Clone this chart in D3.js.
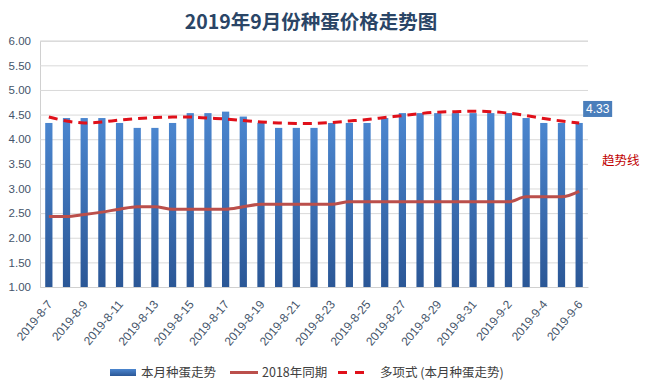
<!DOCTYPE html>
<html>
<head>
<meta charset="utf-8">
<script src="https://cdn.jsdelivr.net/npm/d3@7"></script>
<style>
  body { margin: 0; background: #fff; }
  svg { display: block; font-family: "Liberation Sans", "Noto Sans CJK SC", sans-serif; }
</style>
</head>
<body>
<svg id="chart" width="645" height="389"></svg>
<script>
// categories (x axis)
var dates = ["2019-8-7","2019-8-8","2019-8-9","2019-8-10","2019-8-11","2019-8-12","2019-8-13","2019-8-14",
  "2019-8-15","2019-8-16","2019-8-17","2019-8-18","2019-8-19","2019-8-20","2019-8-21","2019-8-22",
  "2019-8-23","2019-8-24","2019-8-25","2019-8-26","2019-8-27","2019-8-28","2019-8-29","2019-8-30",
  "2019-8-31","2019-9-1","2019-9-2","2019-9-3","2019-9-4","2019-9-5","2019-9-6"];

// 本月种蛋走势 (bars)
var thisMonth = [4.33,4.43,4.43,4.43,4.33,4.23,4.23,4.33,4.53,4.53,4.56,4.46,4.33,4.23,4.23,4.23,
  4.33,4.33,4.33,4.43,4.53,4.53,4.53,4.53,4.53,4.53,4.53,4.43,4.33,4.33,4.33];

// 2018年同期
var lastYear = [2.43,2.43,2.47,2.52,2.58,2.63,2.63,2.58,2.58,2.58,2.58,2.63,2.68,2.68,2.68,2.68,
  2.68,2.73,2.73,2.73,2.73,2.73,2.73,2.73,2.73,2.73,2.73,2.83,2.83,2.83,2.94];

// 多项式 (本月种蛋走势)
var trend = [4.45,4.37,4.33,4.35,4.39,4.42,4.44,4.45,4.45,4.43,4.41,4.38,4.35,4.33,4.32,4.32,
  4.34,4.37,4.40,4.44,4.48,4.52,4.55,4.56,4.57,4.56,4.53,4.48,4.42,4.37,4.33];

var yTicks = [1.00,1.50,2.00,2.50,3.00,3.50,4.00,4.50,5.00,5.50,6.00];

var svg = d3.select("#chart");
var plotLeft = 40, plotRight = 588, plotTop = 40.7, plotBottom = 287;

var x = d3.scaleBand().domain(dates).range([plotLeft, plotRight]).paddingInner(0.59).paddingOuter(0.295);
var xc = function(i){ return x(dates[i]) + x.bandwidth() / 2; };
var y = d3.scaleLinear().domain([1, 6]).range([plotBottom, plotTop]);

// gradient for bars
var defs = svg.append("defs");
var grad = defs.append("linearGradient").attr("id", "barGrad").attr("x1", 0).attr("y1", 0).attr("x2", 0).attr("y2", 1);
grad.append("stop").attr("offset", "0%").attr("stop-color", "#4b86cf");
grad.append("stop").attr("offset", "100%").attr("stop-color", "#2b5796");

// title
svg.append("text")
  .attr("x", 311).attr("y", 29)
  .attr("text-anchor", "middle")
  .style("font-family", "'Noto Sans CJK SC', sans-serif")
  .style("font-weight", "bold")
  .style("font-size", "19.5px")
  .style("fill", "#2a4566")
  .text("2019年9月份种蛋价格走势图");

// y axis with gridlines
var yAxis = svg.append("g")
  .attr("transform", "translate(" + plotLeft + ",0)")
  .call(d3.axisLeft(y).tickValues(yTicks).tickFormat(d3.format(".2f")).tickSize(-(plotRight - plotLeft)).tickPadding(9));
yAxis.select(".domain").attr("stroke", "#d0d0d0");
yAxis.selectAll(".tick line").attr("stroke", "#d9d9d9");
yAxis.selectAll(".tick text").style("font-size", "11.5px").style("fill", "#44546a");

// x axis
var xAxis = svg.append("g")
  .attr("transform", "translate(0," + plotBottom + ")")
  .call(d3.axisBottom(x).tickValues(dates.filter(function(d, i){ return i % 2 === 0; })).tickSize(0));
xAxis.select(".domain").attr("stroke", "#d0d0d0");
xAxis.selectAll(".tick text")
  .attr("text-anchor", "end")
  .attr("transform", "translate(1,15) rotate(-50)")
  .attr("dy", "0.35em").attr("y", 0)
  .style("font-size", "12px")
  .style("fill", "#44546a");

// bars
svg.append("g").selectAll("rect")
  .data(thisMonth)
  .join("rect")
  .attr("x", function(d, i){ return x(dates[i]); })
  .attr("y", function(d){ return y(d); })
  .attr("width", x.bandwidth())
  .attr("height", function(d){ return y(1) - y(d); })
  .attr("fill", "url(#barGrad)");

// 2018 line
var line = d3.line()
  .x(function(d, i){ return xc(i); })
  .y(function(d){ return y(d); })
  .curve(d3.curveMonotoneX);

svg.append("path")
  .attr("d", line(lastYear))
  .attr("fill", "none")
  .attr("stroke", "#bb4f4b")
  .attr("stroke-width", 3);

// trend line
svg.append("path")
  .attr("d", line.curve(d3.curveCatmullRom)(trend))
  .attr("fill", "none")
  .attr("stroke", "#e0101a")
  .attr("stroke-width", 3)
  .attr("stroke-dasharray", "9,6");

// data label for last bar
var lastI = thisMonth.length - 1;
var lbx = xc(lastI) + 4, lby = y(thisMonth[lastI]) - 22;
svg.append("rect")
  .attr("x", lbx).attr("y", lby)
  .attr("width", 29).attr("height", 16)
  .attr("fill", "#4a7ebb");
svg.append("text")
  .attr("x", lbx + 14.5).attr("y", lby + 12.5)
  .attr("text-anchor", "middle")
  .style("font-size", "12px")
  .style("fill", "#ffffff")
  .text(d3.format(".2f")(thisMonth[lastI]));

// 趋势线 note
svg.append("text")
  .attr("x", 602).attr("y", 165)
  .style("font-family", "'Noto Sans CJK SC', sans-serif")
  .style("font-size", "12.5px")
  .style("fill", "#c00000")
  .text("趋势线");

// legend
var leg = svg.append("g").style("font-family", "'Noto Sans CJK SC', sans-serif").style("font-size", "12.5px").style("fill", "#404040");
leg.append("rect").attr("x", 110).attr("y", 369).attr("width", 26).attr("height", 7).attr("fill", "url(#barGrad)");
leg.append("text").attr("x", 141).attr("y", 377).text("本月种蛋走势");
leg.append("line").attr("x1", 230).attr("x2", 258).attr("y1", 372.5).attr("y2", 372.5)
  .attr("stroke", "#bb4f4b").attr("stroke-width", 3);
leg.append("text").attr("x", 262).attr("y", 377).text("2018年同期");
leg.append("line").attr("x1", 338).attr("x2", 364).attr("y1", 372.5).attr("y2", 372.5)
  .attr("stroke", "#e0101a").attr("stroke-width", 3).attr("stroke-dasharray", "9,8");
leg.append("text").attr("x", 380).attr("y", 377).text("多项式 (本月种蛋走势)");
</script>
</body>
</html>
